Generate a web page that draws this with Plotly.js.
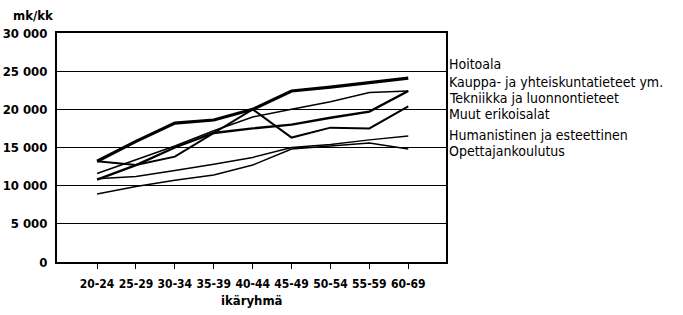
<!DOCTYPE html>
<html>
<head>
<meta charset="utf-8">
<script src="https://cdn.plot.ly/plotly-3.0.1.min.js"></script>
<style>
  html, body { margin: 0; padding: 0; background: #fff; }
  #chart { width: 683px; height: 315px; }
</style>
</head>
<body>
<div id="chart"></div>
<script>
// ---- data ----
const ageGroups = ['20-24', '25-29', '30-34', '35-39', '40-44', '45-49', '50-54', '55-59', '60-69'];
const seriesNames = [
  'Hoitoala',
  'Kauppa- ja yhteiskuntatieteet ym.',
  'Tekniikka ja luonnontieteet',
  'Muut erikoisalat',
  'Humanistinen ja esteettinen',
  'Opettajankoulutus'
];
const hoitoala      = [13200, 15800, 18200, 18600, 20000, 22400, 22900, 23500, 24100];
const kauppa        = [11600, 13400, 15200, 17200, 19000, 20000, 21000, 22200, 22400];
const tekniikka     = [10800, 12700, 15000, 16900, 17500, 18000, 18900, 19700, 22400];
const muut          = [13200, 12700, 13800, 16900, 20000, 16300, 17600, 17500, 20400];
const humanistinen  = [10900, 11200, 12000, 12800, 13700, 15000, 15400, 16000, 16500];
const opettaja      = [8900, 9900, 10700, 11400, 12700, 14800, 15200, 15600, 14800];
const yTickValues = [0, 5000, 10000, 15000, 20000, 25000, 30000];
const yTickLabels = ['0', '5 000', '10 000', '15 000', '20 000', '25 000', '30 000'];
const yUnit = 'mk/kk';
const xTitle = 'ikäryhmä';

// ---- styling (not data) ----
const seriesValues = [hoitoala, kauppa, tekniikka, muut, humanistinen, opettaja];
const lineWidths = [3.2, 1.5, 2.4, 2, 1.5, 1.5];
const labelY = [25980, 23610, 21520, 19430, 16670, 14580];
const FONT = '"DejaVu Sans Condensed", "Liberation Sans Narrow", "Arial Narrow", sans-serif';

const traces = seriesValues.map((vals, i) => ({
  type: 'scatter',
  mode: 'lines',
  x: ageGroups,
  y: vals,
  name: seriesNames[i],
  line: { color: '#000', width: lineWidths[i] },
  hoverinfo: 'skip'
}));

const annotations = seriesNames.map((n, i) => ({
  xref: 'paper', yref: 'y',
  x: 1, y: labelY[i],
  xanchor: 'left', yanchor: 'middle',
  xshift: 1,
  text: n, showarrow: false,
  font: { family: FONT, size: 14, color: '#000' }
}));
annotations.push({
  xref: 'paper', yref: 'paper',
  x: -0.062, y: 1.075, xanchor: 'center', yanchor: 'middle',
  text: yUnit, showarrow: false,
  font: { family: FONT, size: 13, color: '#000', weight: 'bold' }
});
annotations.push({
  xref: 'paper', yref: 'paper',
  x: 0.5, y: -0.17, xanchor: 'center', yanchor: 'middle',
  text: xTitle, showarrow: false,
  font: { family: FONT, size: 13, color: '#000', weight: 'bold' }
});

const layout = {
  width: 683, height: 315,
  margin: { l: 57, r: 237, t: 33, b: 53 },
  paper_bgcolor: '#fff', plot_bgcolor: '#fff',
  showlegend: false,
  font: { family: FONT, color: '#000' },
  xaxis: {
    type: 'category',
    range: [-1.03, 8.97],
    showgrid: false, zeroline: false,
    showline: true, linecolor: '#000', linewidth: 2, mirror: true,
    ticks: 'outside', ticklen: 5, tickwidth: 1, tickcolor: '#000',
    tickangle: 0,
    ticklabelstandoff: 5,
    tickfont: { family: FONT, size: 12, color: '#000', weight: 'bold' }
  },
  yaxis: {
    range: [0, 30000],
    tickvals: yTickValues, ticktext: yTickLabels,
    showgrid: true, gridcolor: '#000', gridwidth: 1,
    zeroline: false,
    showline: true, linecolor: '#000', linewidth: 2, mirror: true,
    ticks: '', ticklabelstandoff: 5,
    tickfont: { family: FONT, size: 13, color: '#000', weight: 'bold' }
  },
  annotations: annotations
};

Plotly.newPlot('chart', traces, layout, { staticPlot: true, displayModeBar: false });
</script>
</body>
</html>
